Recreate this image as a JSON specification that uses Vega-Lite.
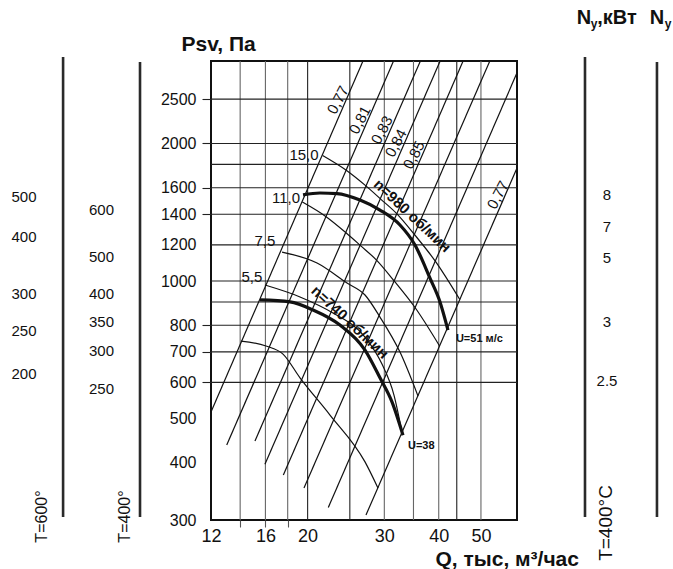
{
  "$schema": "https://vega.github.io/schema/vega-lite/v6.json",
  "width": 306,
  "height": 459,
  "autosize": {"type": "none"},
  "padding": {"left": 211, "top": 61, "right": 156, "bottom": 49},
  "background": "white",
  "config": {"font": "Liberation Sans", "view": {"stroke": "#111", "strokeWidth": 2}},
  "datasets": {
    "vgridL": [{"Q": 14}, {"Q": 16}, {"Q": 18}, {"Q": 30}, {"Q": 35}, {"Q": 40}, {"Q": 50}],
    "vgridD": [{"Q": 20}, {"Q": 25}, {"Q": 44}],
    "hgrid": [{"P": 600}, {"P": 700}, {"P": 800}, {"P": 900}, {"P": 1000}, {"P": 1200}, {"P": 1400}, {"P": 1600}, {"P": 1800}, {"P": 2000}, {"P": 2500}],
    "diag": [
      {"id": "a", "Q": 12, "P": 517}, {"id": "a", "Q": 26.8, "P": 3030},
      {"id": "b", "Q": 13.04, "P": 437.7}, {"id": "b", "Q": 31.5, "P": 3030},
      {"id": "c", "Q": 15.14, "P": 446.7}, {"id": "c", "Q": 36.3, "P": 3030},
      {"id": "d", "Q": 15.96, "P": 397.2}, {"id": "d", "Q": 40.3, "P": 3030},
      {"id": "e", "Q": 17.59, "P": 376.4}, {"id": "e", "Q": 45.5, "P": 3030},
      {"id": "f", "Q": 19.62, "P": 352.5}, {"id": "f", "Q": 52.4, "P": 3030},
      {"id": "g", "Q": 22.31, "P": 319.5}, {"id": "g", "Q": 60.5, "P": 2855},
      {"id": "h", "Q": 27.23, "P": 307.6}, {"id": "h", "Q": 60.5, "P": 1767}
    ],
    "thin": [
      {"c": "15,0", "Q": 21.65, "P": 1883}, {"c": "15,0", "Q": 24.53, "P": 1748}, {"c": "15,0", "Q": 27.22, "P": 1615}, {"c": "15,0", "Q": 29.39, "P": 1513}, {"c": "15,0", "Q": 32.07, "P": 1403}, {"c": "15,0", "Q": 35.16, "P": 1265}, {"c": "15,0", "Q": 39.31, "P": 1104}, {"c": "15,0", "Q": 44.71, "P": 911},
      {"c": "11,0", "Q": 19.45, "P": 1489}, {"c": "11,0", "Q": 22.05, "P": 1383}, {"c": "11,0", "Q": 24.46, "P": 1277}, {"c": "11,0", "Q": 26.41, "P": 1197}, {"c": "11,0", "Q": 28.82, "P": 1110}, {"c": "11,0", "Q": 31.59, "P": 1001}, {"c": "11,0", "Q": 35.32, "P": 874}, {"c": "11,0", "Q": 40.18, "P": 721},
      {"c": "7,5", "Q": 17.47, "P": 1157}, {"c": "7,5", "Q": 21.02, "P": 1095}, {"c": "7,5", "Q": 24.63, "P": 990}, {"c": "7,5", "Q": 27.09, "P": 932}, {"c": "7,5", "Q": 29.32, "P": 834}, {"c": "7,5", "Q": 32.59, "P": 699}, {"c": "7,5", "Q": 35.85, "P": 560},
      {"c": "5,5", "Q": 15.96, "P": 980}, {"c": "5,5", "Q": 19.21, "P": 923}, {"c": "5,5", "Q": 22.87, "P": 851}, {"c": "5,5", "Q": 27.09, "P": 754}, {"c": "5,5", "Q": 29.63, "P": 658}, {"c": "5,5", "Q": 31.57, "P": 563}, {"c": "5,5", "Q": 32.94, "P": 467},
      {"c": "4", "Q": 14.06, "P": 739}, {"c": "4", "Q": 16.05, "P": 721}, {"c": "4", "Q": 17.56, "P": 692}, {"c": "4", "Q": 19.21, "P": 614}, {"c": "4", "Q": 22.51, "P": 509}, {"c": "4", "Q": 27.09, "P": 402}, {"c": "4", "Q": 29.01, "P": 352.5}
    ],
    "bold": [
      {"c": "980", "Q": 19.52, "P": 1543}, {"c": "980", "Q": 21.35, "P": 1558}, {"c": "980", "Q": 23.36, "P": 1554}, {"c": "980", "Q": 26.38, "P": 1504}, {"c": "980", "Q": 29.32, "P": 1430}, {"c": "980", "Q": 32.59, "P": 1326}, {"c": "980", "Q": 35.28, "P": 1199}, {"c": "980", "Q": 38.19, "P": 1015}, {"c": "980", "Q": 40.27, "P": 900}, {"c": "980", "Q": 42.0, "P": 781},
      {"c": "740", "Q": 15.55, "P": 909}, {"c": "740", "Q": 18.22, "P": 900}, {"c": "740", "Q": 20.58, "P": 864}, {"c": "740", "Q": 23.73, "P": 801}, {"c": "740", "Q": 27.09, "P": 706}, {"c": "740", "Q": 29.32, "P": 614}, {"c": "740", "Q": 31.24, "P": 544}, {"c": "740", "Q": 33.11, "P": 460}
    ],
    "effLab": [
      {"t": "0,77", "Q": 23.48, "P": 2489}, {"t": "0,81", "Q": 26.38, "P": 2251}, {"t": "0,83", "Q": 29.63, "P": 2140},
      {"t": "0,84", "Q": 31.91, "P": 2004}, {"t": "0,85", "Q": 35.1, "P": 1887}, {"t": "0,77", "Q": 54.7, "P": 1543}
    ],
    "powLab": [
      {"t": "15,0", "Q": 19.62, "P": 1887}, {"t": "11,0", "Q": 17.84, "P": 1519}, {"t": "7,5", "Q": 15.96, "P": 1223}, {"t": "5,5", "Q": 14.9, "P": 1018}
    ],
    "nLab": [
      {"t": "n=980 об/мин", "Q": 34.8, "P": 1390}, {"t": "n=740 об/мин", "Q": 25.02, "P": 813}
    ],
    "uLab": [
      {"t": "U=51 м/с", "Q": 43.8, "P": 747}, {"t": "U=38", "Q": 34.0, "P": 435.5}
    ],
    "sideRules": [
      {"Q": 5.49, "P": 3091, "P2": 304.6}, {"Q": 8.245, "P": 3014, "P2": 304.6},
      {"Q": 86.67, "P": 3091, "P2": 304.6}, {"Q": 126.8, "P": 3014, "P2": 304.6}
    ],
    "sideNums": [
      {"t": "500", "Q": 4.465, "P": 1527}, {"t": "400", "Q": 4.465, "P": 1248}, {"t": "300", "Q": 4.465, "P": 936.7}, {"t": "250", "Q": 4.465, "P": 777.4}, {"t": "200", "Q": 4.465, "P": 626},
      {"t": "600", "Q": 6.726, "P": 1430}, {"t": "500", "Q": 6.726, "P": 1128.7}, {"t": "400", "Q": 6.726, "P": 936.7}, {"t": "350", "Q": 6.726, "P": 813.5}, {"t": "300", "Q": 6.726, "P": 702.9}, {"t": "250", "Q": 6.726, "P": 580.4},
      {"t": "8", "Q": 97.36, "P": 1543}, {"t": "7", "Q": 97.36, "P": 1312.8}, {"t": "5", "Q": 97.36, "P": 1123}, {"t": "3", "Q": 97.36, "P": 813.5}, {"t": "2.5", "Q": 97.36, "P": 604.3}
    ],
    "tLabL": [
      {"t": "T=600°", "Q": 4.91, "P": 305.3}, {"t": "T=400°", "Q": 7.617, "P": 305.3}
    ],
    "tLabR": [
      {"t": "T=400°C", "Q": 96.85, "P": 295.5}
    ],
    "head": [
      {"t": "N", "Q": 86.2, "P": 3763}, {"t": ",кВт", "Q": 102.6, "P": 3763}, {"t": "N", "Q": 126.8, "P": 3763}
    ],
    "headSub": [
      {"t": "у", "Q": 90.9, "P": 3651}, {"t": "у", "Q": 134.4, "P": 3651}
    ]
  },
  "layer": [
    {
      "data": {"name": "vgridL"},
      "mark": {"type": "rule", "color": "#666", "strokeWidth": 1.1},
      "encoding": {
        "x": {"field": "Q", "type": "quantitative",
          "scale": {"type": "log", "domain": [12, 60.5], "nice": false},
          "axis": {
            "values": [12, 14, 16, 18, 20, 30, 40, 50],
            "format": "d",
            "labelExpr": "datum.value == 14 || datum.value == 18 ? '' : datum.label",
            "domain": false, "grid": false,
            "ticks": true, "tickColor": "#555", "tickSize": 7, "tickWidth": 1.1,
            "tickOpacity": {"condition": {"test": "datum.value >= 14 && datum.value <= 18", "value": 1}, "value": 0},
            "labelFontSize": 18, "labelColor": "#111", "labelPadding": 0, "labelFlush": false, "labelOverlap": false,
            "title": "Q, тыс, м³/час", "titleFontSize": 21, "titleFontWeight": "bold", "titleColor": "#111",
            "titleAlign": "left", "titleX": 224, "titleY": 45, "titleBaseline": "alphabetic"
          }
        }
      }
    },
    {
      "data": {"name": "vgridD"},
      "mark": {"type": "rule", "color": "#222", "strokeWidth": 1.1},
      "encoding": {
        "x": {"field": "Q", "type": "quantitative", "scale": {"type": "log", "domain": [12, 60.5], "nice": false}}
      }
    },
    {
      "data": {"name": "hgrid"},
      "mark": {"type": "rule", "color": "#222", "strokeWidth": 1.1},
      "encoding": {
        "y": {"field": "P", "type": "quantitative",
          "scale": {"type": "log", "domain": [300, 3030], "nice": false},
          "axis": {
            "values": [300, 400, 500, 600, 700, 800, 1000, 1200, 1400, 1600, 2000, 2500],
            "format": "d",
            "domain": false, "grid": false,
            "ticks": true, "tickColor": "#222", "tickSize": 9, "tickWidth": 1.1,
            "tickOpacity": {"condition": {"test": "datum.value == 600 || datum.value == 700 || datum.value == 800 || datum.value >= 1400", "value": 1}, "value": 0},
            "labelFontSize": 16, "labelColor": "#111", "labelPadding": 6, "labelFlush": false, "labelOverlap": false,
            "title": "Psv, Па", "titleFontSize": 21, "titleFontWeight": "bold", "titleColor": "#111",
            "titleAngle": 0, "titleAlign": "left", "titleX": -30, "titleY": -11, "titleBaseline": "alphabetic"
          }
        }
      }
    },
    {
      "data": {"name": "diag"},
      "mark": {"type": "line", "color": "#111", "strokeWidth": 1.2},
      "encoding": {
        "x": {"field": "Q", "type": "quantitative", "scale": {"type": "log", "domain": [12, 60.5], "nice": false}},
        "y": {"field": "P", "type": "quantitative", "scale": {"type": "log", "domain": [300, 3030], "nice": false}},
        "detail": {"field": "id"}
      }
    },
    {
      "data": {"name": "thin"},
      "mark": {"type": "line", "color": "#111", "strokeWidth": 1.2, "interpolate": "monotone"},
      "encoding": {
        "x": {"field": "Q", "type": "quantitative", "scale": {"type": "log", "domain": [12, 60.5], "nice": false}},
        "y": {"field": "P", "type": "quantitative", "scale": {"type": "log", "domain": [300, 3030], "nice": false}},
        "detail": {"field": "c"}
      }
    },
    {
      "data": {"name": "bold"},
      "mark": {"type": "line", "color": "#111", "strokeWidth": 3.2, "interpolate": "monotone"},
      "encoding": {
        "x": {"field": "Q", "type": "quantitative", "scale": {"type": "log", "domain": [12, 60.5], "nice": false}},
        "y": {"field": "P", "type": "quantitative", "scale": {"type": "log", "domain": [300, 3030], "nice": false}},
        "detail": {"field": "c"}
      }
    },
    {
      "data": {"name": "effLab"},
      "mark": {"type": "text", "fontSize": 15, "angle": -62, "align": "center", "baseline": "middle", "color": "#111"},
      "encoding": {
        "x": {"field": "Q", "type": "quantitative", "scale": {"type": "log", "domain": [12, 60.5], "nice": false}},
        "y": {"field": "P", "type": "quantitative", "scale": {"type": "log", "domain": [300, 3030], "nice": false}},
        "text": {"field": "t"}
      }
    },
    {
      "data": {"name": "powLab"},
      "mark": {"type": "text", "fontSize": 15, "align": "center", "baseline": "middle", "color": "#111"},
      "encoding": {
        "x": {"field": "Q", "type": "quantitative", "scale": {"type": "log", "domain": [12, 60.5], "nice": false}},
        "y": {"field": "P", "type": "quantitative", "scale": {"type": "log", "domain": [300, 3030], "nice": false}},
        "text": {"field": "t"}
      }
    },
    {
      "data": {"name": "nLab"},
      "mark": {"type": "text", "fontSize": 15, "fontWeight": "bold", "angle": 43, "align": "center", "baseline": "middle", "color": "#111"},
      "encoding": {
        "x": {"field": "Q", "type": "quantitative", "scale": {"type": "log", "domain": [12, 60.5], "nice": false}},
        "y": {"field": "P", "type": "quantitative", "scale": {"type": "log", "domain": [300, 3030], "nice": false}},
        "text": {"field": "t"}
      }
    },
    {
      "data": {"name": "uLab"},
      "mark": {"type": "text", "fontSize": 11, "fontWeight": "bold", "align": "left", "baseline": "middle", "color": "#111"},
      "encoding": {
        "x": {"field": "Q", "type": "quantitative", "scale": {"type": "log", "domain": [12, 60.5], "nice": false}},
        "y": {"field": "P", "type": "quantitative", "scale": {"type": "log", "domain": [300, 3030], "nice": false}},
        "text": {"field": "t"}
      }
    },
    {
      "data": {"name": "sideRules"},
      "mark": {"type": "rule", "color": "#2a2a2a", "strokeWidth": 2.6},
      "encoding": {
        "x": {"field": "Q", "type": "quantitative", "scale": {"type": "log", "domain": [12, 60.5], "nice": false}},
        "y": {"field": "P", "type": "quantitative", "scale": {"type": "log", "domain": [300, 3030], "nice": false}},
        "y2": {"field": "P2"}
      }
    },
    {
      "data": {"name": "sideNums"},
      "mark": {"type": "text", "fontSize": 15, "align": "center", "baseline": "middle", "color": "#111"},
      "encoding": {
        "x": {"field": "Q", "type": "quantitative", "scale": {"type": "log", "domain": [12, 60.5], "nice": false}},
        "y": {"field": "P", "type": "quantitative", "scale": {"type": "log", "domain": [300, 3030], "nice": false}},
        "text": {"field": "t"}
      }
    },
    {
      "data": {"name": "tLabL"},
      "mark": {"type": "text", "fontSize": 16, "angle": -90, "align": "center", "baseline": "middle", "color": "#111"},
      "encoding": {
        "x": {"field": "Q", "type": "quantitative", "scale": {"type": "log", "domain": [12, 60.5], "nice": false}},
        "y": {"field": "P", "type": "quantitative", "scale": {"type": "log", "domain": [300, 3030], "nice": false}},
        "text": {"field": "t"}
      }
    },
    {
      "data": {"name": "tLabR"},
      "mark": {"type": "text", "fontSize": 19, "angle": -90, "align": "center", "baseline": "middle", "color": "#111"},
      "encoding": {
        "x": {"field": "Q", "type": "quantitative", "scale": {"type": "log", "domain": [12, 60.5], "nice": false}},
        "y": {"field": "P", "type": "quantitative", "scale": {"type": "log", "domain": [300, 3030], "nice": false}},
        "text": {"field": "t"}
      }
    },
    {
      "data": {"name": "head"},
      "mark": {"type": "text", "fontSize": 20, "fontWeight": "bold", "align": "center", "baseline": "middle", "color": "#111"},
      "encoding": {
        "x": {"field": "Q", "type": "quantitative", "scale": {"type": "log", "domain": [12, 60.5], "nice": false}},
        "y": {"field": "P", "type": "quantitative", "scale": {"type": "log", "domain": [300, 3030], "nice": false}},
        "text": {"field": "t"}
      }
    },
    {
      "data": {"name": "headSub"},
      "mark": {"type": "text", "fontSize": 12, "fontWeight": "bold", "align": "center", "baseline": "middle", "color": "#111"},
      "encoding": {
        "x": {"field": "Q", "type": "quantitative", "scale": {"type": "log", "domain": [12, 60.5], "nice": false}},
        "y": {"field": "P", "type": "quantitative", "scale": {"type": "log", "domain": [300, 3030], "nice": false}},
        "text": {"field": "t"}
      }
    }
  ]
}
